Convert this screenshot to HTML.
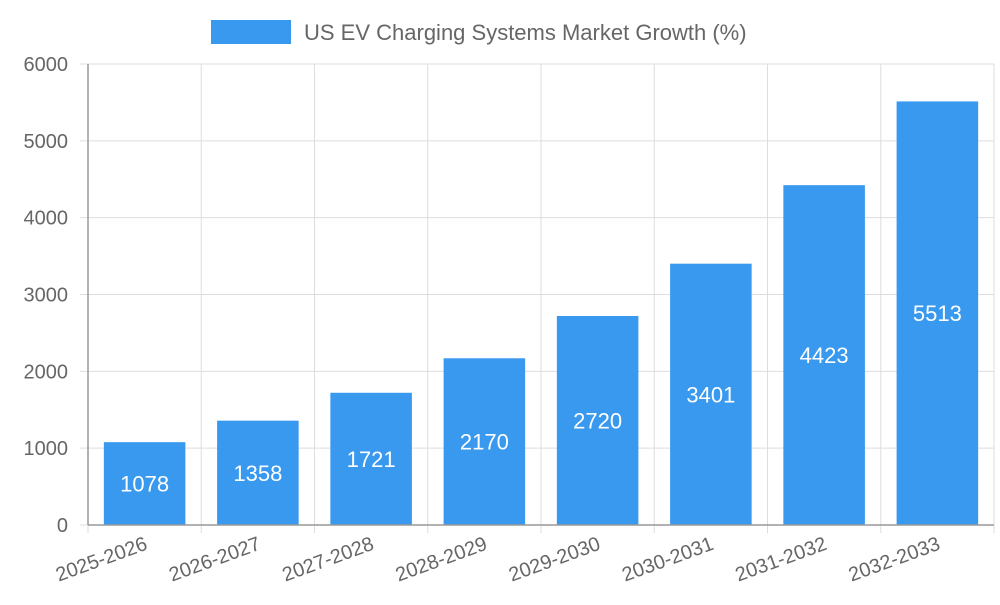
<!DOCTYPE html>
<html><head><meta charset="utf-8"><style>
body{margin:0;background:#fff;}
svg text{font-family:"Liberation Sans",sans-serif;}
</style></head><body>
<svg id="chart" width="1000" height="600">
<g id="grid"></g>
<g id="bars"></g>
<g id="axes"></g>
<g>
<rect x="211" y="20" width="80" height="24" fill="#3899ef"/>
<text x="304" y="40" font-size="22" fill="#666">US EV Charging Systems Market Growth (%)</text>
</g>
</svg>
<script>
const categories=["2025-2026","2026-2027","2027-2028","2028-2029","2029-2030","2030-2031","2031-2032","2032-2033"];
const values=[1078,1358,1721,2170,2720,3401,4423,5513];
const yTicks=[0,1000,2000,3000,4000,5000,6000];
const X0=88,X1=994,Y0=525,Y1=64,YMAX=6000;
const bw=(X1-X0)/categories.length;
const y=v=>Y0-(v/YMAX)*(Y0-Y1);
const x=i=>X0+i*bw;
const NS="http://www.w3.org/2000/svg";
function mk(t,a,p){const e=document.createElementNS(NS,t);for(const k in a)e.setAttribute(k,a[k]);p.appendChild(e);return e;}
const g=document.getElementById('grid'),b=document.getElementById('bars'),ax=document.getElementById('axes');
yTicks.forEach(v=>{
 const l=mk('line',{x1:X0-8,x2:X1,y1:y(v),y2:y(v),stroke:'#ddd','stroke-width':1},g);
 
 
 const t=mk('text',{x:X0-20,y:y(v)+7,'text-anchor':'end','font-size':20,fill:'#666'},ax);
 t.textContent=v;
 
 
});
for(let i=0;i<=categories.length;i++){
 const l=mk('line',{x1:x(i),x2:x(i),y1:Y1,y2:Y0+8,stroke:'#ddd','stroke-width':1},g);
 
 
}
categories.forEach((c,i)=>{
 const bx=x(i)+bw*0.14,w=bw*0.72;
 const r=mk('rect',{x:bx,y:y(values[i]),width:w,height:Y0-y(values[i]),fill:'#3899ef'},b);
 
 
 const t=mk('text',{x:x(i)+bw/2,y:(y(values[i])+Y0)/2+8,'text-anchor':'middle','font-size':22,fill:'#fff'},b);
 t.textContent=values[i];
 
 
 const cx=x(i)+bw/2+4,cy=Y0+24;
 const xl=mk('text',{x:cx,y:cy,'text-anchor':'end','font-size':20,fill:'#666',transform:`rotate(-20 ${cx} ${cy})`},ax);
 xl.textContent=c;
 
 
});
const a1=mk('line',{x1:X0,x2:X0,y1:Y1,y2:Y0,stroke:'#999','stroke-width':1.5},ax);


const a2=mk('line',{x1:X0,x2:X1,y1:Y0,y2:Y0,stroke:'#999','stroke-width':1.5},ax);


</script>
</body></html>
